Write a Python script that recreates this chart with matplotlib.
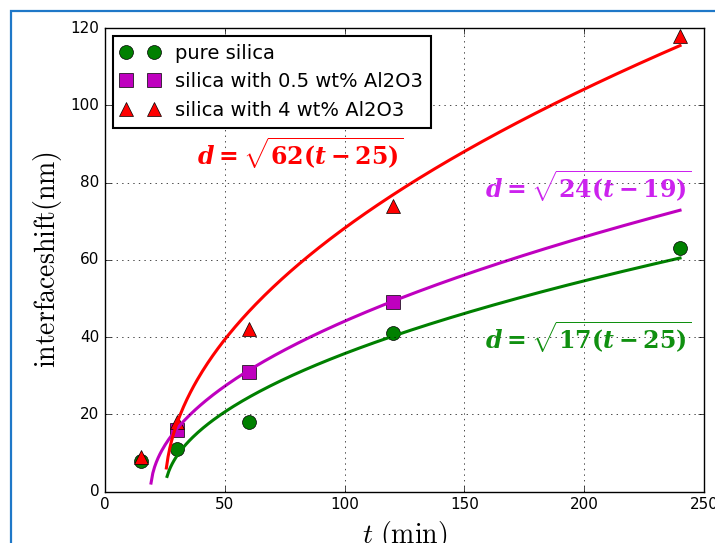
import numpy as np
import matplotlib
matplotlib.use('Agg')
import matplotlib.pyplot as plt
from matplotlib.patches import Rectangle

# measured points
t_pure = [15, 30, 60, 120, 240]
d_pure = [8, 11, 18, 41, 63]
t_05 = [30, 60, 120]
d_05 = [16, 31, 49]
t_4 = [15, 30, 60, 120, 240]
d_4 = [9, 18, 42, 74, 118]

# fit parameters d = sqrt(k (t - t0)), drawn from t_start to t_end
fit_k = [17, 24, 62]
fit_t0 = [25, 19, 25]
fit_start = [25.9, 19.2, 25.6]
fit_end = 240

plt.style.use('classic')
plt.rcParams['mathtext.fontset'] = 'cm'
plt.rcParams['mathtext.bf'] = 'DejaVu Serif:bold'
plt.rcParams['mathtext.bfit'] = 'DejaVu Serif:italic:bold'
plt.rcParams['mathtext.rm'] = 'DejaVu Serif:bold'
plt.rcParams['mathtext.it'] = 'DejaVu Serif:italic:bold'

fig = plt.figure(figsize=(7.15, 5.43), dpi=100)
fig.patch.set_facecolor('white')
ax = fig.add_axes([0.1469, 0.0948, 0.8377, 0.8536])

ax.plot(t_pure, d_pure, 'go', ms=10, label='pure silica')
ax.plot(t_05, d_05, 'ms', ms=10, label='silica with 0.5 wt% Al2O3')
ax.plot(t_4, d_4, 'r^', ms=10, label='silica with 4 wt% Al2O3')

fit_colors = ['g', 'm', 'r']
for k, t0, ts, c in zip(fit_k, fit_t0, fit_start, fit_colors):
    tt = np.linspace(ts, fit_end, 300)
    ax.plot(tt, np.sqrt(k * (tt - t0)), color=c, lw=2.2)

ax.set_xlim(0, 250)
ax.set_ylim(0, 120)
ax.grid(True)
ax.tick_params(labelsize=11)
ax.set_xlabel(r'$t\ \mathrm{(min)}$', fontsize=20)
ax.set_ylabel(r'$\mathrm{interface shift (nm)}$', fontsize=20)

leg = ax.legend(loc='upper left', numpoints=2, fontsize=14, borderaxespad=0.4)
leg.get_frame().set_linewidth(1.5)

fml = r'$d=\sqrt{%d(t-%d)}$'
ax.text(38.4, 87.5, fml % (62, 25), color='#ff0000', fontsize=17,
        va='center', math_fontfamily='custom')
ax.text(158.6, 79, fml % (24, 19), color='#cc22ee', fontsize=17,
        va='center', math_fontfamily='custom')
ax.text(158.6, 40, fml % (17, 25), color='#109010', fontsize=17,
        va='center', math_fontfamily='custom')

fig.patches.append(Rectangle((11.5 / 715, -0.1), 1.2, 1.1 - 11.5 / 543,
                             transform=fig.transFigure, fill=False,
                             edgecolor='#1f78c8', lw=1.6))

fig.savefig('out.png', dpi=100)
